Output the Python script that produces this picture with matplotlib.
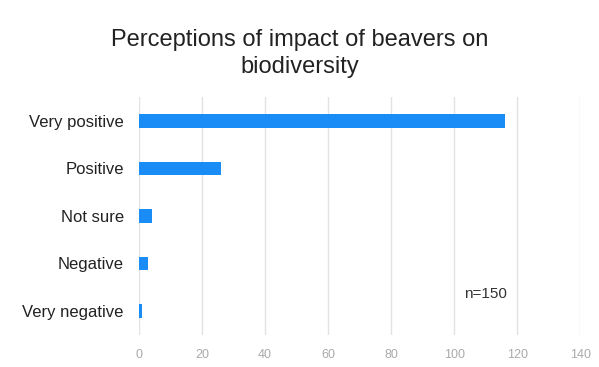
import matplotlib.pyplot as plt

categories = ["Very positive", "Positive", "Not sure", "Negative", "Very negative"]
counts = [116, 26, 4, 3, 1]
xticks = [0, 20, 40, 60, 80, 100, 120, 140]

plt.rcParams['font.family'] = ['Liberation Sans', 'DejaVu Sans']

fig = plt.figure(figsize=(5.99, 3.67), dpi=100)
ax = fig.add_axes([0.232, 0.088, 0.737, 0.647])

ypos = list(range(len(categories)))
ax.barh(ypos, counts, height=0.29, color='#1a8cf5', zorder=3)
ax.set_ylim(len(categories) - 0.5, -0.5)
ax.set_yticks(ypos)
ax.set_yticklabels(categories, fontsize=12, color='#222222')

ax.set_xlim(0, 140)
ax.set_xticks(xticks)
ax.set_xticklabels([str(t) for t in xticks], fontsize=9, color='#aaaaaa')
ax.grid(axis='x', color='#e2e2e2', linewidth=1, zorder=0)
ax.tick_params(length=0)
ax.tick_params(axis='y', pad=11)
ax.tick_params(axis='x', pad=10)
for s in ax.spines.values():
    s.set_visible(False)

ax.text(0.785, 0.17, "n=150", transform=ax.transAxes, fontsize=11, color='#333333',
        ha='center', va='center')

fig.suptitle("Perceptions of impact of beavers on\nbiodiversity", fontsize=17,
             color='#222222', y=0.92, linespacing=1.25)

fig.savefig("out.png", dpi=100)
